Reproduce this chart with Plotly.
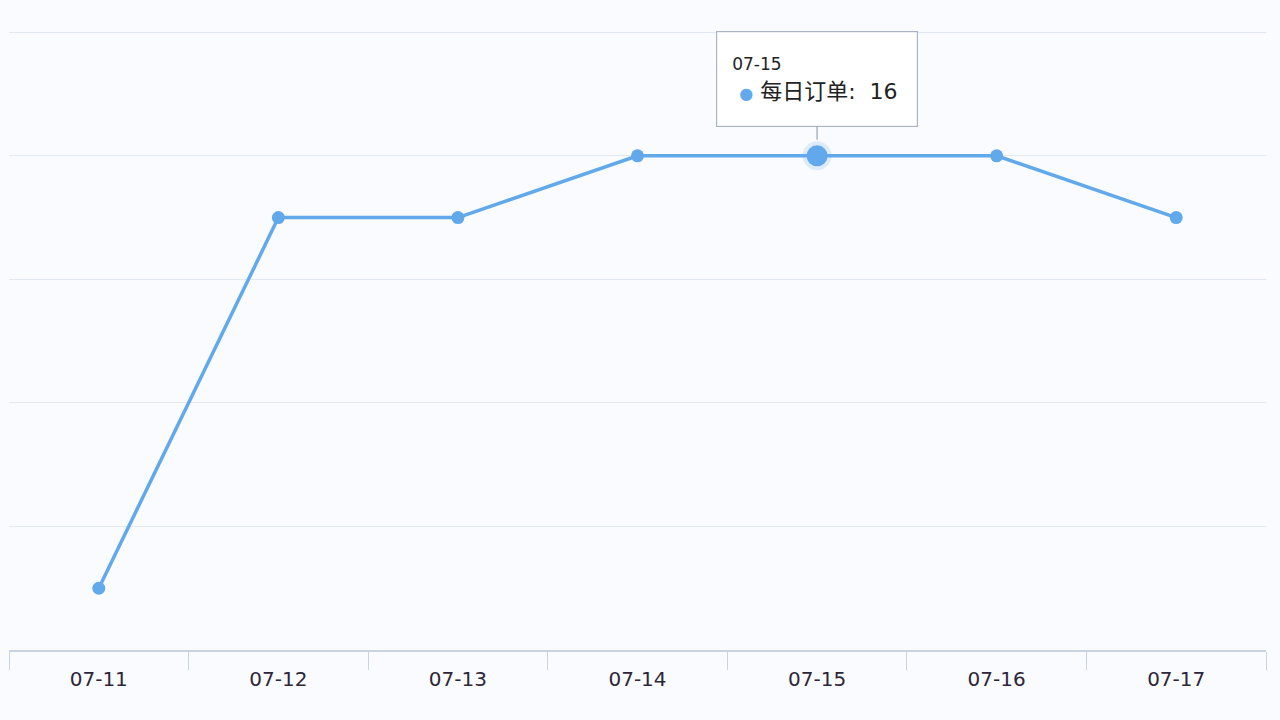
import plotly.graph_objects as go

# data
dates = ['07-11', '07-12', '07-13', '07-14', '07-15', '07-16', '07-17']
orders = [2, 14, 14, 16, 16, 16, 14]
series_name = '每日订单'
hover_idx = 4  # point shown with the tooltip

line_color = '#62a9ec'
font_family = 'DejaVu Sans, Noto Sans CJK SC, sans-serif'

fig = go.Figure()

fig.add_trace(go.Scatter(
    x=dates,
    y=orders,
    mode='lines+markers',
    name=series_name,
    line=dict(color=line_color, width=3.5),
    marker=dict(color=line_color, size=13),
    hoverinfo='skip'
))

# emphasised point (halo + bigger marker)
fig.add_trace(go.Scatter(
    x=[dates[hover_idx]],
    y=[orders[hover_idx]],
    mode='markers',
    marker=dict(color=line_color, size=21,
                line=dict(color='rgba(98,169,236,0.18)', width=8)),
    hoverinfo='skip',
    showlegend=False
))

# static tooltip box
tip_text = (f'<span style="font-size:17px">{dates[hover_idx]}</span><br>'
            f'&nbsp;<span style="color:{line_color};font-size:16px">●</span> '
            f'<span style="font-size:22px">{series_name}:&nbsp;&nbsp;{orders[hover_idx]}</span>')
fig.add_annotation(
    x=dates[hover_idx], y=orders[hover_idx],
    text=tip_text,
    showarrow=True, arrowhead=0, arrowwidth=1.2, arrowcolor='#9aa4b4',
    ax=0, ay=-77, standoff=16,
    align='left',
    bgcolor='rgba(255,255,255,0.97)',
    bordercolor='#aab4c4', borderwidth=1.2, borderpad=15,
    font=dict(family=font_family, size=22, color='#222'),
    width=170, height=64
)

fig.update_layout(
    width=1280, height=720,
    margin=dict(l=9, r=14, t=23, b=70),
    paper_bgcolor='#f9fbfe',
    plot_bgcolor='#f9fbfe',
    showlegend=False,
    font=dict(family=font_family),
    xaxis=dict(
        type='category',
        range=[-0.5, len(dates) - 0.5],
        tickson='boundaries',
        ticks='outside', ticklen=18, tickcolor='#c9d3e3', tickwidth=1,
        showline=True, linecolor='#c9d3e3', linewidth=1.5,
        showgrid=False,
        ticklabelstandoff=10,
        tickfont=dict(size=20, color='#2e2638', family=font_family),
        fixedrange=True
    ),
    yaxis=dict(
        range=[0, 20.3],
        dtick=4,
        showgrid=True, gridcolor='#e3e9f2', gridwidth=1,
        zeroline=False,
        showticklabels=False,
        fixedrange=True
    )
)

fig.write_html("out.html", config={'displayModeBar': False},
               post_script="document.body.style.margin='0';")
